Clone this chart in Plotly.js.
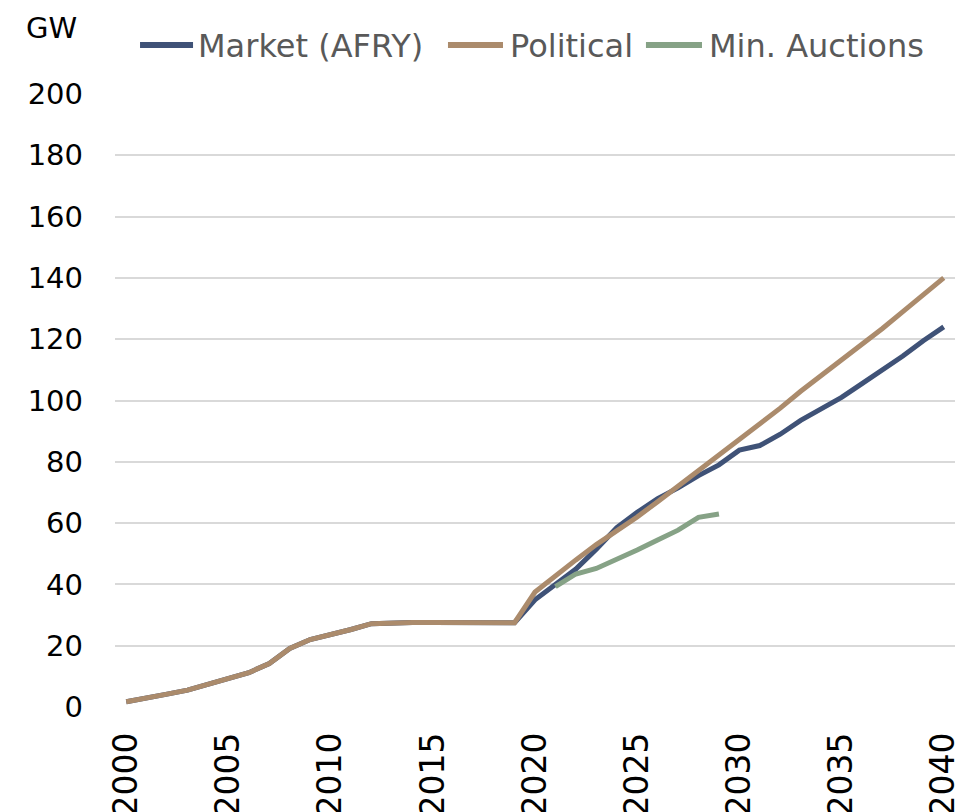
<!DOCTYPE html>
<html>
<head>
<meta charset="utf-8">
<script src="https://cdn.plot.ly/plotly-3.0.1.min.js"></script>
<style>
  body { margin: 0; background: #fff; }
  #chart { width: 973px; height: 812px; }
</style>
</head>
<body>
<div id="chart"></div>
<script>
// years on the x axis
var years = [];
for (var y = 2000; y <= 2040; y++) years.push(y);

// installed capacity, GW
var historical = [1.7, 2.8, 4.2, 5.5, 7.5, 9.4, 11.2, 14.2, 19.1, 22.0,
                  23.5, 25.3, 27.2, 27.6, 27.6, 27.6, 27.6, 27.7, 27.8, 27.5];

var marketFuture = [35.0, 40.0, 45.0, 51.5, 58.5, 63.5, 68.0, 71.5, 75.5, 79.0,
                    83.8, 85.3, 89.0, 93.5, 97.3, 101.0, 105.5, 110.0, 114.5, 119.5, 124.0];

var politicalFuture = [37.5, 43.0, 48.0, 53.0, 57.5, 62.0, 67.0, 72.0, 77.0, 82.0,
                       87.0, 92.0, 97.5, 103.0, 108.0, 113.0, 118.0, 123.5, 129.0, 134.5, 140.0];

var auctionYears = [2021, 2022, 2023, 2024, 2025, 2026, 2027, 2028, 2029];
var auctionValues = [39.3, 43.4, 45.2, 48.0, 51.2, 54.5, 57.7, 61.9, 63.0];

var market = historical.concat(marketFuture);
var political = historical.concat(politicalFuture);

var seriesNames = ["Market (AFRY)", "Political", "Min. Auctions"];
var seriesColors = ["#3F5277", "#AB8B6C", "#86A286"];

var fontFam = "DejaVu Sans, Verdana, sans-serif";

var traceMarket = {
  x: years, y: market, name: seriesNames[0],
  type: "scatter", mode: "lines",
  line: {color: seriesColors[0], width: 5}
};

var tracePolitical = {
  x: years, y: political, name: seriesNames[1],
  type: "scatter", mode: "lines",
  line: {color: seriesColors[1], width: 5}
};

var traceAuctions = {
  x: auctionYears, y: auctionValues, name: seriesNames[2],
  type: "scatter", mode: "lines",
  line: {color: seriesColors[2], width: 5}
};

var data = [traceMarket, tracePolitical, traceAuctions];

// legend drawn by hand so the sample lines can be as long as in the original
var legendLineX = [[0.0298, 0.0929], [0.3964, 0.4619], [0.6321, 0.6988]];
var legendTextX = [0.0964, 0.4679, 0.7048];
var legendY = 1.080;

var shapes = [];
var annotations = [];
for (var i = 0; i < seriesNames.length; i++) {
  shapes.push({
    type: "line", xref: "paper", yref: "paper",
    x0: legendLineX[i][0], x1: legendLineX[i][1], y0: legendY, y1: legendY,
    line: {color: seriesColors[i], width: 6}
  });
  annotations.push({
    text: seriesNames[i],
    xref: "paper", yref: "paper",
    x: legendTextX[i], xanchor: "left",
    y: legendY - 0.002, yanchor: "middle",
    showarrow: false,
    font: {size: 32, color: "#595959"}
  });
}

annotations.push({
  text: "GW",
  xref: "paper", yref: "paper",
  x: -0.108, xanchor: "left",
  y: 1.108, yanchor: "middle",
  showarrow: false,
  font: {size: 29, color: "#000000"}
});

var layout = {
  width: 973,
  height: 812,
  margin: {l: 115, r: 18, t: 94, b: 105},
  paper_bgcolor: "#ffffff",
  plot_bgcolor: "#ffffff",
  font: {family: fontFam, color: "#000000"},
  showlegend: false,
  xaxis: {
    range: [1999.45, 2040.55],
    tickvals: [2000, 2005, 2010, 2015, 2020, 2025, 2030, 2035, 2040],
    tickangle: -90,
    tickfont: {size: 33, color: "#000000"},
    showgrid: false,
    zeroline: false,
    showline: false,
    ticks: "",
    ticklabelstandoff: 18
  },
  yaxis: {
    range: [0, 200],
    dtick: 20,
    tickfont: {size: 29, color: "#000000"},
    gridcolor: "#d9d9d9",
    gridwidth: 2,
    zeroline: false,
    showline: false,
    ticks: "",
    ticklabelstandoff: 31
  },
  shapes: shapes,
  annotations: annotations
};

Plotly.newPlot("chart", data, layout, {displayModeBar: false, staticPlot: true});
</script>
</body>
</html>
